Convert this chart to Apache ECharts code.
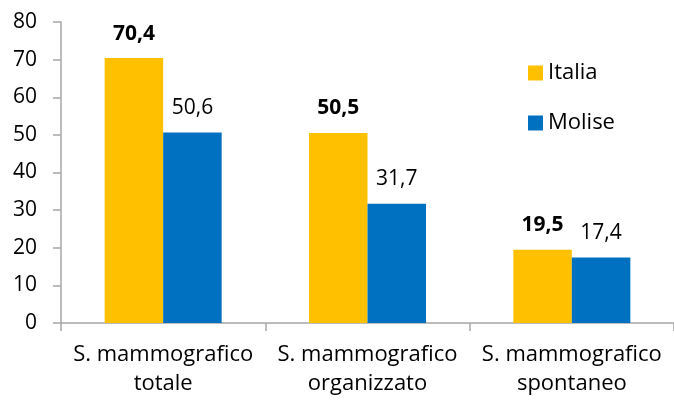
<!DOCTYPE html>
<html><head><meta charset="utf-8">
<script src="https://cdn.jsdelivr.net/npm/echarts@6/dist/echarts.min.js"></script>
<style>html,body{margin:0;padding:0;background:#fff}#c{width:674px;height:404px}</style>
</head><body><div id="c"></div>
<script>
const categories = ['S. mammografico\ntotale', 'S. mammografico\norganizzato', 'S. mammografico\nspontaneo'];
const italia = [70.4, 50.5, 19.5];
const molise = [50.6, 31.7, 17.4];
const yTicks = [0, 10, 20, 30, 40, 50, 60, 70, 80];
const FONT = '"Open Sans", sans-serif';
const FS = 21;
const fmt = p => String(p.value).replace('.', ',');
const chart = echarts.init(document.getElementById('c'), null, {renderer: 'canvas'});
chart.setOption({
  animation: false,
  textStyle: {fontFamily: FONT},
  grid: {left: 61, top: 22, bottom: 81, right: -5, containLabel: false},
  legend: {
    orient: 'vertical', left: 523, top: 57, itemWidth: 15, itemHeight: 15, itemGap: 28,
    icon: 'rect',
    textStyle: {fontSize: 22, color: '#000', fontFamily: FONT},
    data: ['Italia', 'Molise']
  },
  xAxis: {
    type: 'category', data: categories,
    axisLine: {lineStyle: {color: '#a6a6a6', width: 1.5}},
    axisTick: {show: true, length: 8, lineStyle: {color: '#a6a6a6', width: 1.5}},
    axisLabel: {color: '#000', fontSize: 22, lineHeight: 29, margin: 17, fontFamily: FONT, interval: 0, hideOverlap: false}
  },
  yAxis: {
    type: 'value', min: yTicks[0], max: yTicks[yTicks.length - 1], interval: 10,
    splitLine: {show: false},
    axisLine: {show: true, lineStyle: {color: '#a6a6a6', width: 1.5}},
    axisTick: {show: true, length: 8, lineStyle: {color: '#a6a6a6', width: 1.5}},
    axisLabel: {color: '#000', fontSize: FS, margin: 24, fontFamily: FONT}
  },
  series: [
    {name: 'Italia', type: 'bar', data: italia, barWidth: 58.5, barGap: '0%',
     itemStyle: {color: '#FFC000'},
     label: {show: true, position: 'top', distance: 14, formatter: fmt, fontSize: FS, fontWeight: 'bold', color: '#000', fontFamily: FONT}},
    {name: 'Molise', type: 'bar', data: molise, barWidth: 58.5, barGap: '0%',
     itemStyle: {color: '#0070C0'},
     label: {show: true, position: 'top', distance: 14, formatter: fmt, fontSize: FS, color: '#000', fontFamily: FONT}}
  ]
});
</script></body></html>
